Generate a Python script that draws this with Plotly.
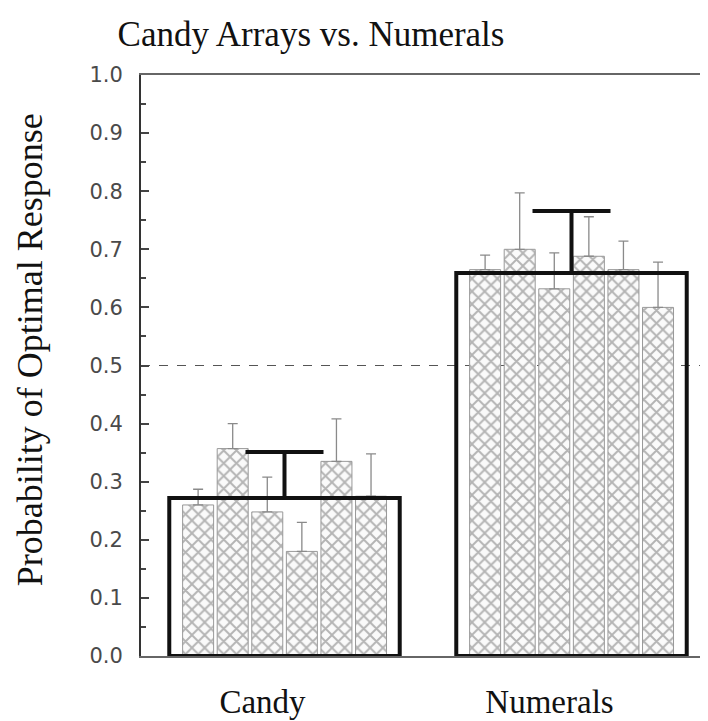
import plotly.graph_objects as go

categories = ["Candy", "Numerals"]

# six individual subject groups per condition (means, upper error)
candy_values = [0.260, 0.357, 0.248, 0.180, 0.335, 0.275]
candy_errors = [0.027, 0.043, 0.060, 0.050, 0.073, 0.073]
numeral_values = [0.665, 0.700, 0.632, 0.688, 0.665, 0.600]
numeral_errors = [0.025, 0.097, 0.062, 0.068, 0.049, 0.078]

# overall condition means
mean_values = [0.272, 0.659]
mean_errors = [0.079, 0.107]

chance_level = 0.5
y_tick_values = [0.0, 0.1, 0.2, 0.3, 0.4, 0.5, 0.6, 0.7, 0.8, 0.9, 1.0]
y_tick_labels = ["0.0", "0.1", "0.2", "0.3", "0.4", "0.5", "0.6", "0.7", "0.8", "0.9", "1.0"]

SERIF = "Liberation Serif, Times New Roman, serif"
SANS = "DejaVu Sans, Liberation Sans, Arial, sans-serif"

fig = go.Figure()

n_sub = len(candy_values)
sub_width = 0.108
sub_step = 0.1205
sub_start = -0.355
for i in range(n_sub):
    fig.add_trace(go.Bar(
        x=categories,
        y=[candy_values[i], numeral_values[i]],
        width=sub_width,
        offset=sub_start + i * sub_step,
        marker=dict(
            color="#fafafa",
            line=dict(color="#999999", width=1),
            pattern=dict(shape="x", fgcolor="#6e6e6e", bgcolor="#fafafa",
                         size=9, solidity=0.38),
        ),
        error_y=dict(type="data", symmetric=False,
                     array=[candy_errors[i], numeral_errors[i]],
                     arrayminus=[0, 0],
                     color="#8a8a8a", thickness=1.3, width=5),
        showlegend=False,
        hoverinfo="skip",
    ))

fig.add_trace(go.Bar(
    x=categories,
    y=mean_values,
    width=0.803,
    marker=dict(color="rgba(0,0,0,0)", line=dict(color="#111111", width=4)),
    error_y=dict(type="data", symmetric=False, array=mean_errors,
                 arrayminus=[0, 0], color="#111111", thickness=4, width=39),
    showlegend=False,
    hoverinfo="skip",
))

fig.add_hline(y=chance_level, line=dict(color="#555555", width=1, dash="dash"),
              layer="below")

fig.add_annotation(
    text="Probability of Optimal Response",
    xref="paper", yref="paper", x=-0.194, y=0.527,
    xanchor="center", yanchor="middle", textangle=-90, showarrow=False,
    font=dict(family=SERIF, size=36, color="#111111"),
)

fig.update_layout(
    width=708, height=721,
    margin=dict(l=133, r=0, t=67, b=73),
    paper_bgcolor="white",
    plot_bgcolor="white",
    barmode="overlay",
    title=dict(text="Candy Arrays vs. Numerals", x=0.428, xref="container",
               xanchor="center", y=0.964, yref="container", yanchor="middle",
               font=dict(family=SERIF, size=35, color="#111111")),
    xaxis=dict(
        type="category",
        range=[-0.5, 1.5035],
        automargin=False,
        showline=True, linecolor="#666666", linewidth=2, mirror=True,
        ticks="", showgrid=False, zeroline=False,
        tickfont=dict(family=SERIF, size=33, color="#111111"),
        ticklabelshift=-22,
        ticklabelstandoff=15,
    ),
    yaxis=dict(
        range=[0, 1.0],
        automargin=False,
        tickvals=y_tick_values,
        ticktext=y_tick_labels,
        ticks="inside", ticklen=8, tickwidth=1.5, tickcolor="#444444",
        minor=dict(ticks="inside", ticklen=5, tickwidth=1.5, tickcolor="#444444", dtick=0.05, showgrid=False),
        showline=True, linecolor="#333333", linewidth=2, mirror=False,
        showgrid=False, zeroline=False,
        tickfont=dict(family=SANS, size=21, color="#4a4a4a"),
        ticklabelstandoff=12,
    ),
)

fig.write_html("out.html")
